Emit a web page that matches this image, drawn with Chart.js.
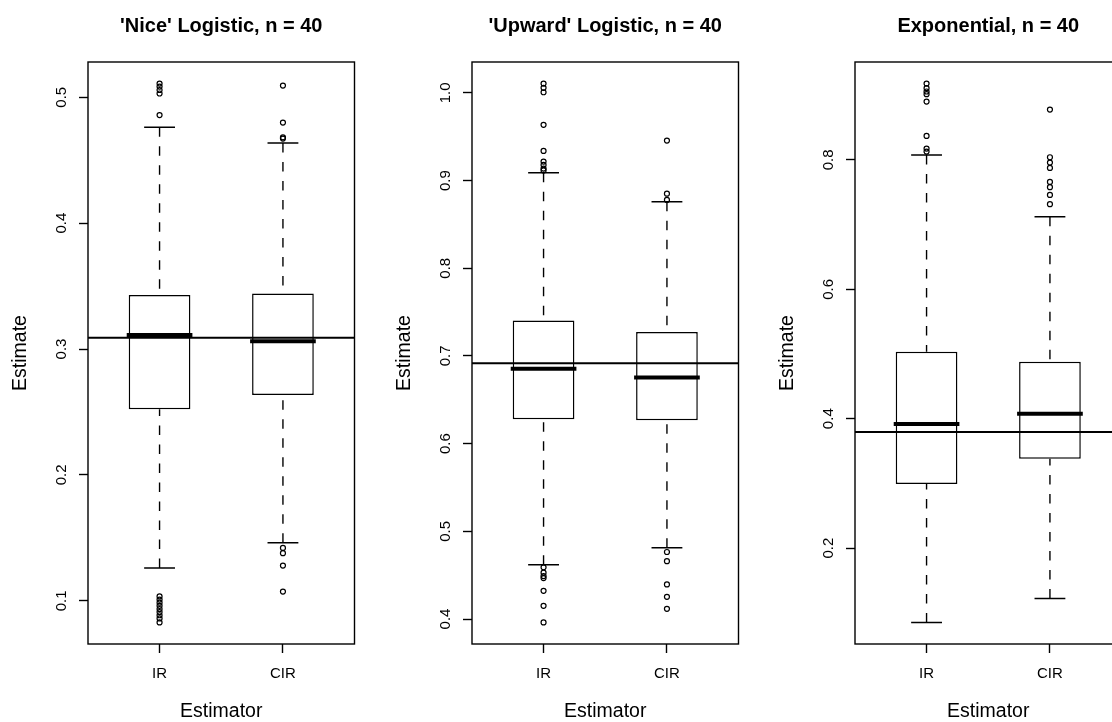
<!DOCTYPE html>
<html><head><meta charset="utf-8">
<script src="https://cdn.jsdelivr.net/npm/chart.js@4.4.1/dist/chart.umd.min.js"></script>
<style>
html,body{margin:0;padding:0;background:#fff;overflow:hidden;width:1112px;height:722px;}
#wrap{position:relative;width:1112px;height:722px;overflow:hidden;background:#fff;}
.panel{position:absolute;top:0;width:384px;height:722px;}
</style></head><body>
<div id="wrap">
<div class="panel" style="left:0px"><canvas id="c0"></canvas></div>
<div class="panel" style="left:384px"><canvas id="c1"></canvas></div>
<div class="panel" style="left:767px"><canvas id="c2"></canvas></div>
</div>
<script>
// ---------- data ----------
const categories = ['IR', 'CIR'];
const panelTitles = ["'Nice' Logistic, n = 40", "'Upward' Logistic, n = 40", "Exponential, n = 40"];
const xAxisTitle = 'Estimator';
const yAxisTitle = 'Estimate';

// box statistics: [lower whisker, Q1, median, Q3, upper whisker]
const niceIR  = [0.1260, 0.2521, 0.3112, 0.3429, 0.4761];
const niceCIR = [0.1462, 0.2635, 0.3062, 0.3442, 0.4636];
const niceOutIR  = [0.5109, 0.5085, 0.5058, 0.5030, 0.4859, 0.1035, 0.1010, 0.0985, 0.0960, 0.0935, 0.0910, 0.0885, 0.0860, 0.0828];
const niceOutCIR = [0.5093, 0.4799, 0.4682, 0.4672, 0.1420, 0.1378, 0.1280, 0.1073];
const niceTrue = 0.309;
const niceTicks = [0.1, 0.2, 0.3, 0.4, 0.5];
const niceTickLabels = ['0.1', '0.2', '0.3', '0.4', '0.5'];

const upIR  = [0.4619, 0.6279, 0.6853, 0.7404, 0.9090];
const upCIR = [0.4813, 0.6267, 0.6753, 0.7272, 0.8759];
const upOutIR  = [1.0106, 1.0057, 1.0007, 0.9635, 0.9338, 0.9216, 0.9178, 0.9136, 0.9115, 0.4589, 0.4528, 0.4490, 0.4467, 0.4322, 0.4151, 0.3961];
const upOutCIR = [0.9456, 0.8850, 0.8779, 0.4764, 0.4660, 0.4395, 0.4253, 0.4116];
const upTrue = 0.6918;
const upTicks = [0.4, 0.5, 0.6, 0.7, 0.8, 0.9, 1.0];
const upTickLabels = ['0.4', '0.5', '0.6', '0.7', '0.8', '0.9', '1.0'];

const expIR  = [0.0851, 0.2990, 0.3918, 0.5036, 0.8077];
const expCIR = [0.1222, 0.3381, 0.4077, 0.4881, 0.7123];
const expOutIR  = [0.9180, 0.9109, 0.9057, 0.9016, 0.8902, 0.8371, 0.8175, 0.8128];
const expOutCIR = [0.8778, 0.8041, 0.7959, 0.7876, 0.7660, 0.7578, 0.7459, 0.7315];
const expTrue = 0.3794;
const expTicks = [0.2, 0.4, 0.6, 0.8];
const expTickLabels = ['0.2', '0.4', '0.6', '0.8'];

// ---------- drawing ----------
const FONT = '"Liberation Sans", Arial, Helvetica, sans-serif';

const rTextPlugin = {
  id: 'rtext',
  afterDraw(chart) {
    const p = chart.options.plugins.rtext;
    const { ctx, chartArea: a, scales } = chart;
    ctx.save();
    ctx.strokeStyle = '#000';
    ctx.lineWidth = 1.4;
    ctx.strokeRect(a.left, a.top, a.right - a.left, a.bottom - a.top);
    ctx.fillStyle = '#000';
    ctx.textAlign = 'center';
    ctx.textBaseline = 'alphabetic';
    const cx = (a.left + a.right) / 2;
    ctx.font = 'bold 20px ' + FONT;
    ctx.fillText(p.title, cx, 32);
    ctx.font = '15px ' + FONT;
    p.categories.forEach((c, i) => {
      ctx.fillText(c, scales.x.getPixelForValue(i + 1), a.bottom + 34);
    });
    p.ticks.forEach((v, i) => {
      const y = scales.y.getPixelForValue(v);
      ctx.save();
      ctx.translate(a.left - 22.5, y);
      ctx.rotate(-Math.PI / 2);
      ctx.fillText(p.tickLabels[i], 0, 0);
      ctx.restore();
    });
    ctx.font = '19.5px ' + FONT;
    ctx.fillText(xAxisTitle, cx, a.bottom + 72.7);
    ctx.save();
    ctx.translate(a.left - 62.5, (a.top + a.bottom) / 2);
    ctx.rotate(-Math.PI / 2);
    ctx.fillText(yAxisTitle, 0, 0);
    ctx.restore();
    ctx.restore();
  }
};

function makePanel(canvasId, title, statsList, outList, trueVal, ticks, tickLabels) {
  const all = [].concat(...statsList, ...outList);
  const lo = Math.min(...all), hi = Math.max(...all);
  const yMin = lo - 0.04 * (hi - lo), yMax = hi + 0.04 * (hi - lo);
  const n = categories.length;
  const xMin = 0.5 - 0.04 * n, xMax = n + 0.5 + 0.04 * n;
  const halfBox = 0.25, halfStaple = 0.125;

  const boxes = [], medians = [], staples = [], whiskers = [], outliers = [];
  statsList.forEach((s, i) => {
    const x = i + 1;
    boxes.push({ x: x, y: [s[1], s[3]] });
    medians.push({ x: x - halfBox, y: s[2] }, { x: x + halfBox, y: s[2] }, { x: x + halfBox, y: null });
    staples.push({ x: x - halfStaple, y: s[0] }, { x: x + halfStaple, y: s[0] }, { x: x + halfStaple, y: null });
    staples.push({ x: x - halfStaple, y: s[4] }, { x: x + halfStaple, y: s[4] }, { x: x + halfStaple, y: null });
    whiskers.push({ x: x, y: s[0] }, { x: x, y: s[1] }, { x: x, y: null });
    whiskers.push({ x: x, y: s[4] }, { x: x, y: s[3] }, { x: x, y: null });
    outList[i].forEach(v => outliers.push({ x: x, y: v }));
  });

  const lineBase = { type: 'line', borderColor: '#000', pointRadius: 0, pointHoverRadius: 0, tension: 0, spanGaps: false, fill: false };

  return new Chart(document.getElementById(canvasId), {
    type: 'bar',
    data: {
      datasets: [
        Object.assign({}, lineBase, { label: 'true', data: [{ x: xMin, y: trueVal }, { x: xMax, y: trueVal }], borderWidth: 2, order: 0 }),
        Object.assign({}, lineBase, { label: 'median', data: medians, borderWidth: 4, borderCapStyle: 'square', order: 1 }),
        Object.assign({}, lineBase, { label: 'staples', data: staples, borderWidth: 1.5, order: 2 }),
        { type: 'scatter', label: 'outliers', data: outliers, pointStyle: 'circle', pointRadius: 2.5, pointHoverRadius: 2.5, pointBorderWidth: 1.2, borderColor: '#000', pointBorderColor: '#000', pointBackgroundColor: 'rgba(0,0,0,0)', backgroundColor: 'rgba(0,0,0,0)', showLine: false, order: 2 },
        Object.assign({}, lineBase, { label: 'whiskers', data: whiskers, borderWidth: 1.4, borderDash: [9.5, 9.5], order: 3 }),
        { type: 'bar', label: 'boxes', data: boxes, backgroundColor: '#fff', borderColor: '#000', borderWidth: 1.5, borderSkipped: false, barPercentage: 0.5, categoryPercentage: 1, grouped: false, order: 5 }
      ]
    },
    options: {
      responsive: true,
      maintainAspectRatio: false,
      animation: false,
      events: [],
      layout: { padding: { left: 79, right: 384 - 88 - 266.5, top: 62, bottom: 722 - 644 - 9 } },
      plugins: {
        legend: { display: false },
        tooltip: { enabled: false },
        title: { display: false },
        rtext: { title: title, categories: categories, ticks: ticks, tickLabels: tickLabels }
      },
      scales: {
        x: {
          type: 'linear', min: xMin, max: xMax, offset: false,
          afterBuildTicks: s => { s.ticks = categories.map((c, i) => ({ value: i + 1 })); },
          afterFit: s => { s.height = 9; },
          grid: { display: true, offset: false, drawOnChartArea: false, drawTicks: true, tickLength: 9, tickColor: '#000', tickWidth: 1.4 },
          border: { display: false },
          ticks: { display: false }
        },
        y: {
          type: 'linear', min: yMin, max: yMax,
          afterBuildTicks: s => { s.ticks = ticks.map(v => ({ value: v })); },
          afterFit: s => { s.width = 9; },
          grid: { display: true, drawOnChartArea: false, drawTicks: true, tickLength: 9, tickColor: '#000', tickWidth: 1.4 },
          border: { display: false },
          ticks: { display: false }
        }
      }
    },
    plugins: [rTextPlugin]
  });
}

makePanel('c0', panelTitles[0], [niceIR, niceCIR], [niceOutIR, niceOutCIR], niceTrue, niceTicks, niceTickLabels);
makePanel('c1', panelTitles[1], [upIR, upCIR], [upOutIR, upOutCIR], upTrue, upTicks, upTickLabels);
makePanel('c2', panelTitles[2], [expIR, expCIR], [expOutIR, expOutCIR], expTrue, expTicks, expTickLabels);
</script>
</body></html>
